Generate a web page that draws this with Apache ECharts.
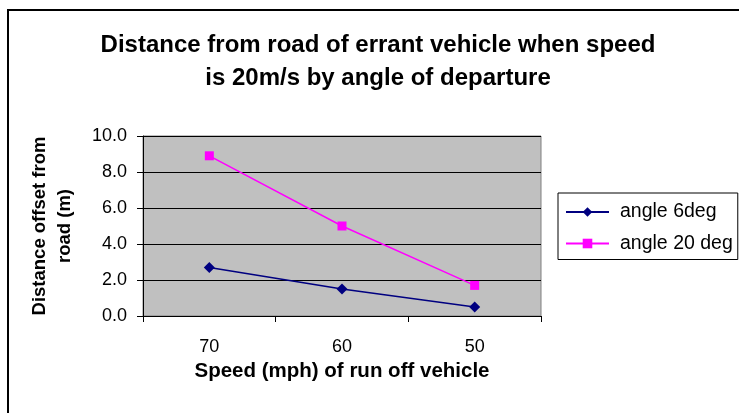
<!DOCTYPE html>
<html>
<head>
<meta charset="utf-8">
<script src="https://cdn.jsdelivr.net/npm/echarts@6/dist/echarts.min.js"></script>
<style>
    html, body { margin: 0; padding: 0; background: #fff; }
    #chart { width: 739px; height: 413px; }
</style>
</head>
<body>
<div id="chart"></div>
<script>
// 类别（车速 mph）
var speeds = ['70', '60', '50'];
// 偏离角度 6 度
var angle6 = [2.7, 1.5, 0.5];
// 偏离角度 20 度
var angle20 = [8.9, 5.0, 1.7];
var yTicks = [0, 2, 4, 6, 8, 10];

var font = 'Liberation Sans, Arial, sans-serif';

var chart = echarts.init(document.getElementById('chart'));
chart.setOption({
    animation: false,
    backgroundColor: '#fff',
    textStyle: { fontFamily: font },
    title: {
        text: 'Distance from road of errant vehicle when speed\nis 20m/s by angle of departure',
        left: 378,
        top: 29,
        textAlign: 'center',
        padding: 0,
        textStyle: {
            fontFamily: font,
            fontSize: 24,
            fontWeight: 'bold',
            color: '#000',
            lineHeight: 33
        }
    },
    // 外框
    graphic: [{
        type: 'rect',
        shape: { x: 8, y: 10, width: 800, height: 500 },
        style: { fill: 'none', stroke: '#000', lineWidth: 2 },
        silent: true
    }],
    legend: {
        orient: 'vertical',
        left: 558,
        top: 193,
        padding: [9, 5, 6, 7],
        itemGap: 11.5,
        itemWidth: 43,
        itemHeight: 12,
        borderColor: '#000',
        borderWidth: 1,
        textStyle: {
            fontFamily: font,
            fontSize: 19.5,
            color: '#000',
            padding: [0, 0, 0, 6]
        },
        data: ['angle 6deg', 'angle 20 deg']
    },
    grid: {
        left: 143,
        right: 198,
        top: 136,
        bottom: 97,
        show: true,
        backgroundColor: '#C0C0C0',
        borderColor: '#808080',
        borderWidth: 1
    },
    xAxis: {
        type: 'category',
        data: speeds,
        boundaryGap: true,
        name: 'Speed (mph) of run off vehicle',
        nameLocation: 'middle',
        nameGap: 45,
        nameTextStyle: { fontFamily: font, fontSize: 20.5, fontWeight: 'bold', color: '#000' },
        axisLine: { lineStyle: { color: '#000', width: 1 } },
        axisTick: { show: true, length: 6, lineStyle: { color: '#000' } },
        axisLabel: { margin: 22, fontFamily: font, fontSize: 18, color: '#000' },
        splitLine: { show: false }
    },
    yAxis: {
        type: 'value',
        min: yTicks[0],
        max: yTicks[yTicks.length - 1],
        interval: 2,
        name: 'Distance offset from\nroad (m)',
        nameLocation: 'middle',
        nameRotate: 90,
        nameGap: 66,
        nameTextStyle: { fontFamily: font, fontSize: 18.5, fontWeight: 'bold', color: '#000', lineHeight: 25, align: 'center' },
        axisLine: { show: true, lineStyle: { color: '#000', width: 1 } },
        axisTick: { show: true, length: 6, lineStyle: { color: '#000' } },
        axisLabel: {
            margin: 16,
            fontFamily: font,
            fontSize: 18,
            color: '#000',
            formatter: function (v) { return v.toFixed(1); }
        },
        splitLine: { show: true, lineStyle: { color: '#000', width: 1 } }
    },
    series: [
        {
            name: 'angle 6deg',
            type: 'line',
            data: angle6,
            symbol: 'diamond',
            symbolSize: 11,
            lineStyle: { color: '#000080', width: 1.5 },
            itemStyle: { color: '#000080' }
        },
        {
            name: 'angle 20 deg',
            type: 'line',
            data: angle20,
            symbol: 'rect',
            symbolSize: 9,
            lineStyle: { color: '#FF00FF', width: 1.5 },
            itemStyle: { color: '#FF00FF' }
        }
    ]
});
</script>
</body>
</html>
